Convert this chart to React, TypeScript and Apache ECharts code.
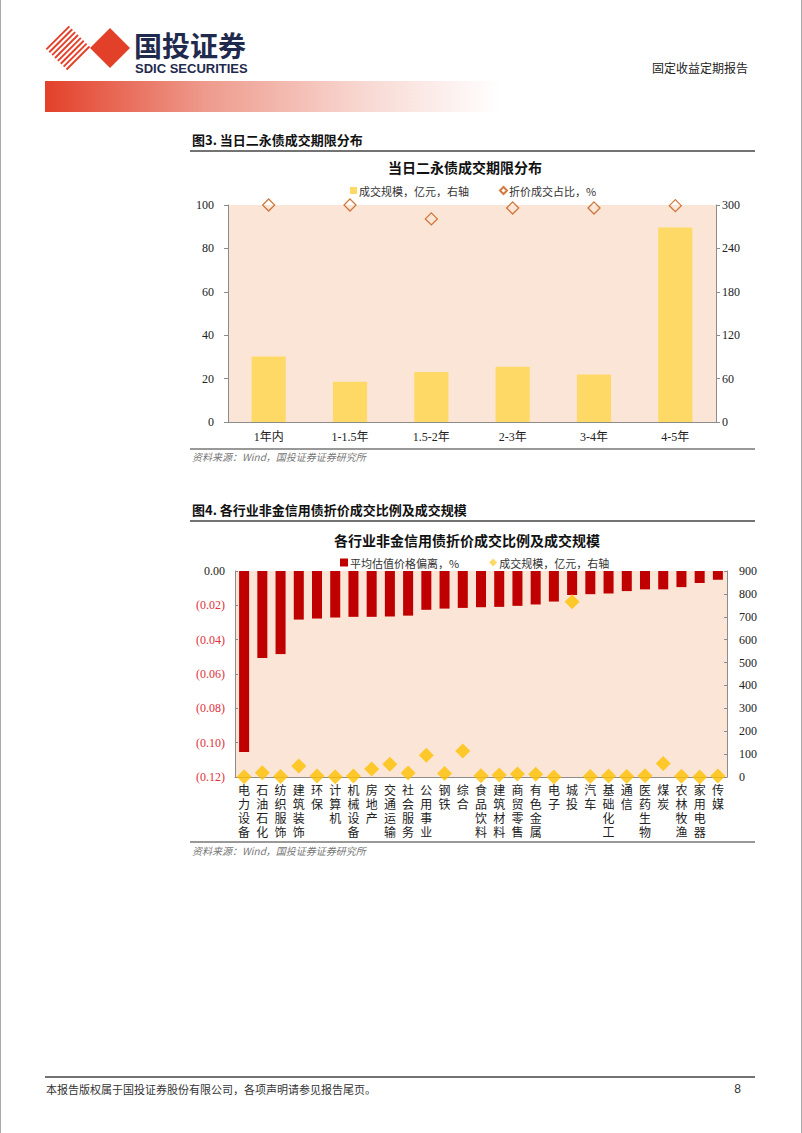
import React, { useEffect, useRef } from "react";
import * as echarts from "echarts";

const termCategories = ["1年内", "1-1.5年", "1.5-2年", "2-3年", "3-4年", "4-5年"];
const termVolume = [90.5, 55.5, 69, 76.5, 65.5, 269];
const termDiscountPct = [100, 100, 93.6, 98.6, 98.6, 99.7];

const industries = [
  "电力设备", "石油石化", "纺织服饰", "建筑装饰", "环保", "计算机", "机械设备", "房地产", "交通运输",
  "社会服务", "公用事业", "钢铁", "综合", "食品饮料", "建筑材料", "商贸零售", "有色金属", "电子",
  "城投", "汽车", "基础化工", "通信", "医药生物", "煤炭", "农林牧渔", "家用电器", "传媒",
];
const priceDeviation = [
  -0.1054, -0.0507, -0.0484, -0.0283, -0.0277, -0.0271, -0.0267, -0.0267, -0.0265,
  -0.026, -0.0226, -0.0219, -0.0215, -0.0211, -0.0209, -0.0203, -0.0195, -0.0178,
  -0.014, -0.0135, -0.0131, -0.0117, -0.0107, -0.0107, -0.0094, -0.007, -0.0051,
];
const industryVolume = [
  1, 19, 2, 48, 4, 1, 4, 35, 56,
  18, 95, 15, 114, 6, 9, 13, 12, 0,
  766, 2, 4, 2, 6, 59, 3, 0, 4,
];

const leftTicks1 = [0, 100, 20];
const rightTicks1 = [0, 300, 60];
const leftTicks2 = [-0.12, 0, 0.02];
const rightTicks2 = [0, 900, 100];

const SERIF = "'Liberation Serif', 'Times New Roman', 'Noto Sans CJK SC', serif";
const CJK = "'Noto Sans CJK SC', sans-serif";

export default function App() {
  const ref = useRef<HTMLDivElement>(null);
  useEffect(() => {
    if (!ref.current) return;
    const chart = echarts.init(ref.current, undefined, { renderer: "svg" });

    const stripeLines: any[] = [];
    const cx = 68, cy = 48, r = 23;
    for (let i = 0; i < 8; i++) {
      const t = 0.06 + i * 0.125;
      const x1 = cx - r + r * t;
      const y1 = cy + r * t;
      stripeLines.push({
        type: "line",
        shape: { x1, y1, x2: x1 + r, y2: y1 - r },
        style: { stroke: "#E3402A", lineWidth: 2 },
      });
    }

    const axisGray = "#8c8c8c";
    const labelFont = { fontFamily: SERIF, fontSize: 12, color: "#222" };

    const option: any = {
      animation: false,
      backgroundColor: "#fff",
      graphic: [
        { type: "line", shape: { x1: 0.5, y1: 0, x2: 0.5, y2: 1133 }, style: { stroke: "#aaa", lineWidth: 1 } },
        { type: "line", shape: { x1: 801.5, y1: 0, x2: 801.5, y2: 1133 }, style: { stroke: "#aaa", lineWidth: 1 } },
        ...stripeLines,
        {
          type: "polygon",
          shape: { points: [[90, 48], [110, 28], [130, 48], [110, 68]] },
          style: { fill: "#E3402A" },
        },
        {
          type: "text",
          x: 134, y: 45,
          style: { text: "国投证券", font: "bold 28px 'Noto Sans CJK SC'", lineHeight: 26, fill: "#1F2A4D", verticalAlign: "middle", align: "left" },
        },
        {
          type: "text",
          x: 135, y: 68,
          style: { text: "SDIC SECURITIES", font: "bold 13px 'Liberation Sans Narrow', 'Liberation Sans', Arial", lineHeight: 12, fill: "#1F2A4D", verticalAlign: "middle", align: "left" },
        },
        {
          type: "text",
          x: 748, y: 67,
          style: { text: "固定收益定期报告", font: "12px " + CJK, fill: "#222", verticalAlign: "middle", align: "right" },
        },
        {
          type: "rect",
          shape: { x: 45, y: 81, width: 455, height: 31 },
          style: {
            fill: new echarts.graphic.LinearGradient(0, 0, 1, 0, [
              { offset: 0, color: "#E3402A" },
              { offset: 0.35, color: "#EE9A8C" },
              { offset: 0.7, color: "#F8D8D2" },
              { offset: 1, color: "#ffffff" },
            ]),
          },
        },
        // Figure 3 header
        {
          type: "text", x: 192, y: 139,
          style: { text: "图3. 当日二永债成交期限分布", font: "bold 13px " + CJK, fill: "#111", verticalAlign: "middle", align: "left" },
        },
        { type: "line", shape: { x1: 190, y1: 151, x2: 755, y2: 151 }, style: { stroke: "#444", lineWidth: 1.5 } },
        { type: "line", shape: { x1: 190, y1: 449, x2: 755, y2: 449 }, style: { stroke: "#999", lineWidth: 2 } },
        {
          type: "text", x: 192, y: 456,
          style: { text: "资料来源：Wind，国投证券证券研究所", font: "italic 10px " + CJK, fill: "#777", verticalAlign: "middle", align: "left" },
        },
        // Figure 4 header
        {
          type: "text", x: 192, y: 509,
          style: { text: "图4. 各行业非金信用债折价成交比例及成交规模", font: "bold 13px " + CJK, fill: "#111", verticalAlign: "middle", align: "left" },
        },
        { type: "line", shape: { x1: 190, y1: 521, x2: 755, y2: 521 }, style: { stroke: "#444", lineWidth: 1.5 } },
        { type: "line", shape: { x1: 190, y1: 842, x2: 755, y2: 842 }, style: { stroke: "#999", lineWidth: 2 } },
        {
          type: "text", x: 192, y: 850,
          style: { text: "资料来源：Wind，国投证券证券研究所", font: "italic 10px " + CJK, fill: "#777", verticalAlign: "middle", align: "left" },
        },
        // Footer
        { type: "line", shape: { x1: 45, y1: 1077, x2: 755, y2: 1077 }, style: { stroke: "#444", lineWidth: 1.5 } },
        {
          type: "text", x: 46, y: 1089,
          style: { text: "本报告版权属于国投证券股份有限公司，各项声明请参见报告尾页。", font: "11px " + CJK, fill: "#333", verticalAlign: "middle", align: "left" },
        },
        {
          type: "text", x: 741, y: 1089,
          style: { text: "8", font: "12px 'Liberation Sans', Arial", fill: "#333", verticalAlign: "middle", align: "right" },
        },
      ],
      title: [
        {
          text: "当日二永债成交期限分布",
          left: 460, top: 155, textAlign: "center",
          textStyle: { fontFamily: CJK, fontSize: 14, fontWeight: "bold", color: "#111" },
        },
        {
          text: "各行业非金信用债折价成交比例及成交规模",
          left: 462, top: 528, textAlign: "center",
          textStyle: { fontFamily: CJK, fontSize: 14, fontWeight: "bold", color: "#111" },
        },
      ],
      legend: [
        {
          left: 345, top: 180,
          itemGap: 30, itemWidth: 7, itemHeight: 7,
          textStyle: { fontFamily: CJK, fontSize: 11, color: "#333", padding: [0, 0, 0, -3] },
          data: [
            { name: "成交规模，亿元，右轴", icon: "rect" },
            { name: "折价成交占比，%", icon: "diamond" },
          ],
        },
        {
          left: 335, top: 552,
          itemGap: 30, itemWidth: 8, itemHeight: 8,
          textStyle: { fontFamily: CJK, fontSize: 11, color: "#333", padding: [0, 0, 0, -3] },
          data: [
            { name: "平均估值价格偏离，%", icon: "rect" },
            { name: "成交规模，亿元，右轴", icon: "diamond" },
          ],
        },
      ],
      grid: [
        { left: 228, top: 205, width: 488, height: 217, show: true, backgroundColor: "#FBE5D6", borderWidth: 0 },
        { left: 235, top: 571, width: 492, height: 206, show: true, backgroundColor: "#FBE5D6", borderWidth: 0 },
      ],
      xAxis: [
        {
          type: "category", gridIndex: 0, data: termCategories, position: "bottom",
          axisLine: { lineStyle: { color: axisGray } },
          axisTick: { inside: true, length: 4, lineStyle: { color: axisGray } },
          axisLabel: { ...labelFont, fontFamily: SERIF, margin: 9 },
        },
        {
          type: "category", gridIndex: 1, data: industries, position: "bottom",
          axisLine: { show: false }, axisTick: { show: false },
          axisLabel: {
            interval: 0, margin: 5, fontFamily: CJK, fontSize: 12, lineHeight: 14, color: "#222",
            verticalAlign: "top",
            formatter: (v: string) => v.split("").join("\n"),
          },
        },
        {
          type: "category", gridIndex: 1, data: industries, position: "top",
          axisLine: { lineStyle: { color: axisGray } },
          axisTick: { length: 3, lineStyle: { color: axisGray } },
          axisLabel: { show: false },
        },
      ],
      yAxis: [
        {
          type: "value", gridIndex: 0, position: "left",
          min: leftTicks1[0], max: leftTicks1[1], interval: leftTicks1[2],
          axisLine: { show: true, lineStyle: { color: axisGray } },
          axisTick: { show: true, length: 4, lineStyle: { color: axisGray } },
          splitLine: { show: false },
          axisLabel: { ...labelFont, margin: 14 },
        },
        {
          type: "value", gridIndex: 0, position: "right",
          min: rightTicks1[0], max: rightTicks1[1], interval: rightTicks1[2],
          axisLine: { show: true, lineStyle: { color: axisGray } },
          axisTick: { show: true, length: 4, lineStyle: { color: axisGray } },
          splitLine: { show: false },
          axisLabel: { ...labelFont, margin: 6 },
        },
        {
          type: "value", gridIndex: 1, position: "left",
          min: leftTicks2[0], max: leftTicks2[1], interval: leftTicks2[2],
          axisLine: { show: true, lineStyle: { color: axisGray } },
          axisTick: { show: true, inside: true, length: 3, lineStyle: { color: axisGray } },
          splitLine: { show: false },
          axisLabel: {
            fontFamily: SERIF, fontSize: 12, margin: 10,
            color: (v: any) => (Math.abs(Number(v)) < 1e-9 ? "#222" : "#E0303A"),
            formatter: (v: number) => (Math.abs(v) < 1e-9 ? "0.00" : "(" + Math.abs(v).toFixed(2) + ")"),
          },
        },
        {
          type: "value", gridIndex: 1, position: "right",
          min: rightTicks2[0], max: rightTicks2[1], interval: rightTicks2[2],
          axisLine: { show: true, lineStyle: { color: axisGray } },
          axisTick: { show: true, inside: true, length: 3, lineStyle: { color: axisGray } },
          splitLine: { show: false },
          axisLabel: { ...labelFont, margin: 12 },
        },
      ],
      series: [
        {
          name: "成交规模，亿元，右轴", type: "bar", xAxisIndex: 0, yAxisIndex: 1,
          data: termVolume, barWidth: "42%", itemStyle: { color: "#FFD966" },
        },
        {
          name: "折价成交占比，%", type: "scatter", xAxisIndex: 0, yAxisIndex: 0,
          data: termDiscountPct, symbol: "diamond", symbolSize: 12,
          itemStyle: { color: "rgba(0,0,0,0)", borderColor: "#C55A11", borderWidth: 1.3 },
        },
        {
          name: "平均估值价格偏离，%", type: "bar", xAxisIndex: 1, yAxisIndex: 2,
          data: priceDeviation, barWidth: "55%", itemStyle: { color: "#C00000" },
        },
        {
          name: "成交规模，亿元，右轴", type: "scatter", xAxisIndex: 1, yAxisIndex: 3,
          data: industryVolume, symbol: "diamond", symbolSize: 15,
          itemStyle: { color: "#FFC000" }, z: 5,
        },
      ],
    };
    chart.setOption(option);
    return () => chart.dispose();
  }, []);

  return (
    <div
      ref={ref}
      style={{ position: "absolute", left: 0, top: 0, width: 802, height: 1133 }}
    />
  );
}
